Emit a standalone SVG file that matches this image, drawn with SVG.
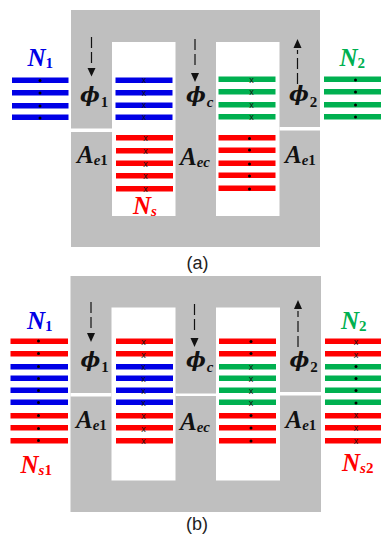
<svg xmlns="http://www.w3.org/2000/svg" width="381" height="537" viewBox="0 0 381 537">
<style>
.core{fill:#bfbfbf}
.win{fill:#fff}
.b{fill:#0000e6}.r{fill:#ff0000}.g{fill:#00b050}
.d{fill:#000}
.x{font:9px "Liberation Sans",Arial,sans-serif;fill:#111;text-anchor:middle}
.l{font-family:"Liberation Serif","Times New Roman",serif;font-weight:bold;font-style:italic;font-size:25px;fill:#111}
.p{font-family:"DejaVu Serif",serif;font-size:21px}
.s{font-family:"Liberation Serif","Times New Roman",serif;font-size:15px}
.n{font-style:normal}
.tb{fill:#0000e6}.tr{fill:#ff0000}.tg{fill:#00b050}
.cap{font:18px "Liberation Sans",Arial,sans-serif;fill:#222;text-anchor:middle}
.ar{stroke:#111;stroke-width:1.2;stroke-dasharray:11 4;fill:none}
.hd{fill:#111}
</style>
<g id="core-a">
<rect class="core" x="71" y="10" width="249" height="237"/>
<rect class="win" x="112" y="42" width="63.500" height="174"/>
<rect class="win" x="216" y="42" width="63.500" height="174"/>
<rect class="win" x="71" y="128.500" width="41" height="3.500"/>
<rect class="win" x="279.500" y="127" width="41" height="3.500"/>
</g>
<g id="winding-a-left">
<rect class="b" x="12" y="77.500" width="56.500" height="5.500"/><rect class="b" x="12" y="90" width="56.500" height="5.500"/><rect class="b" x="12" y="103" width="56.500" height="5.500"/><rect class="b" x="12" y="114.500" width="56.500" height="5.500"/>
<circle class="d" cx="40" cy="80.500" r="1.500"/><circle class="d" cx="40" cy="93" r="1.500"/><circle class="d" cx="40" cy="106" r="1.500"/><circle class="d" cx="40" cy="118" r="1.500"/>
<text class="l tb" x="27.500" y="66">N<tspan class="s n" dy="2">1</tspan></text>
</g>
<g id="winding-a-win1">
<rect class="b" x="115.500" y="77.500" width="57" height="5.500"/><rect class="b" x="115.500" y="90" width="57" height="5.500"/><rect class="b" x="115.500" y="102.500" width="57" height="5.500"/><rect class="b" x="115.500" y="114.500" width="57" height="5.500"/>
<text class="x" x="144" y="83">x</text><text class="x" x="144" y="95.500">x</text><text class="x" x="144" y="108">x</text><text class="x" x="144" y="120">x</text>
<rect class="r" x="116" y="135" width="57" height="5.500"/><rect class="r" x="116" y="148" width="57" height="5.500"/><rect class="r" x="116" y="160.500" width="57" height="5.500"/><rect class="r" x="116" y="173" width="57" height="5.500"/><rect class="r" x="116" y="186" width="57" height="5.500"/>
<text class="x" x="145.500" y="140.500">x</text><text class="x" x="145.500" y="153.500">x</text><text class="x" x="145.500" y="166.500">x</text><text class="x" x="145.500" y="178.500">x</text><text class="x" x="145.500" y="191.500">x</text>
<text class="l tr" x="133" y="214">N<tspan class="s" dy="2">s</tspan></text>
</g>
<g id="winding-a-win2">
<rect class="g" x="218.500" y="76.500" width="57" height="5.500"/><rect class="g" x="218.500" y="89" width="57" height="5.500"/><rect class="g" x="218.500" y="102" width="57" height="5.500"/><rect class="g" x="218.500" y="114" width="57" height="5.500"/>
<text class="x" x="251.500" y="82.500">x</text><text class="x" x="251.500" y="94.500">x</text><text class="x" x="251.500" y="107.500">x</text><text class="x" x="251.500" y="119.500">x</text>
<rect class="r" x="218.500" y="135" width="57" height="5.500"/><rect class="r" x="218.500" y="147.500" width="57" height="5.500"/><rect class="r" x="218.500" y="160.500" width="57" height="5.500"/><rect class="r" x="218.500" y="172.500" width="57" height="5.500"/><rect class="r" x="218.500" y="185.500" width="57" height="5.500"/>
<circle class="d" cx="249.500" cy="138.500" r="1.500"/><circle class="d" cx="249.500" cy="150" r="1.500"/><circle class="d" cx="249.500" cy="164" r="1.500"/><circle class="d" cx="249.500" cy="176" r="1.500"/><circle class="d" cx="249.500" cy="189" r="1.500"/>
</g>
<g id="winding-a-right">
<rect class="g" x="324" y="76.500" width="57" height="5.500"/><rect class="g" x="324" y="89" width="57" height="5.500"/><rect class="g" x="324" y="102" width="57" height="5.500"/><rect class="g" x="324" y="114" width="57" height="5.500"/>
<circle class="d" cx="355.500" cy="80" r="1.500"/><circle class="d" cx="355.500" cy="92" r="1.500"/><circle class="d" cx="355.500" cy="105" r="1.500"/><circle class="d" cx="355.500" cy="117" r="1.500"/>
<text class="l tg" x="339.500" y="65.500">N<tspan class="s n" dy="2">2</tspan></text>
</g>
<g id="labels-a">
<text class="l p" x="80" y="102">ϕ<tspan class="s n" dx="1" dy="5">1</tspan></text>
<text class="l p" x="186" y="102">ϕ<tspan class="s" dx="1" dy="5">c</tspan></text>
<text class="l p" x="289" y="101">ϕ<tspan class="s n" dx="1" dy="6">2</tspan></text>
<text class="l" x="77" y="163">A<tspan class="s" dy="2">e</tspan><tspan class="s n">1</tspan></text>
<text class="l" x="180" y="165">A<tspan class="s" dy="2">ec</tspan></text>
<text class="l" x="285" y="163">A<tspan class="s" dy="2">e</tspan><tspan class="s n">1</tspan></text>
<text class="cap" x="197.500" y="269">(a)</text>
</g>
<g id="core-b">
<rect class="core" x="70.500" y="276" width="250.500" height="236"/>
<rect class="win" x="111.500" y="307.500" width="64" height="173"/>
<rect class="win" x="216" y="307.500" width="64" height="173"/>
<rect class="win" x="70.500" y="393" width="41" height="3.500"/>
<rect class="win" x="175.500" y="393.500" width="40.500" height="2.500"/>
<rect class="win" x="280" y="392" width="41" height="3.500"/>
</g>
<g id="winding-b-left">
<rect class="r" x="10.500" y="338.500" width="57.500" height="5.500"/><rect class="r" x="10.500" y="351" width="57.500" height="5.500"/><rect class="b" x="10.500" y="364" width="57.500" height="5.500"/><rect class="b" x="10.500" y="375.500" width="57.500" height="5.500"/><rect class="b" x="10.500" y="387.500" width="57.500" height="5.500"/><rect class="b" x="10.500" y="399.500" width="57.500" height="5.500"/><rect class="r" x="10.500" y="413" width="57.500" height="5.500"/><rect class="r" x="10.500" y="425" width="57.500" height="5.500"/><rect class="r" x="10.500" y="438" width="57.500" height="5.500"/>
<circle class="d" cx="38.500" cy="341" r="1.500"/><circle class="d" cx="38.500" cy="353.500" r="1.500"/><circle class="d" cx="38.500" cy="366.500" r="1.500"/><circle class="d" cx="38.500" cy="378.500" r="1.500"/><circle class="d" cx="38.500" cy="390.500" r="1.500"/><circle class="d" cx="38.500" cy="402.500" r="1.500"/><circle class="d" cx="38.500" cy="415.500" r="1.500"/><circle class="d" cx="38.500" cy="428.500" r="1.500"/><circle class="d" cx="38.500" cy="440.500" r="1.500"/>
<text class="l tb" x="27" y="329">N<tspan class="s n" dy="2">1</tspan></text>
<text class="l tr" x="20.500" y="473">N<tspan class="s" dy="2">s</tspan><tspan class="s n">1</tspan></text>
</g>
<g id="winding-b-win1">
<rect class="r" x="116" y="338.500" width="57" height="5.500"/><rect class="r" x="116" y="351" width="57" height="5.500"/><rect class="b" x="116" y="364" width="57" height="5.500"/><rect class="b" x="116" y="375.500" width="57" height="5.500"/><rect class="b" x="116" y="387.500" width="57" height="5.500"/><rect class="b" x="116" y="399.500" width="57" height="5.500"/><rect class="r" x="116" y="413" width="57" height="5.500"/><rect class="r" x="116" y="425" width="57" height="5.500"/><rect class="r" x="116" y="438" width="57" height="5.500"/>
<text class="x" x="143.500" y="344.500">x</text><text class="x" x="143.500" y="357.500">x</text><text class="x" x="143.500" y="370">x</text><text class="x" x="143.500" y="381.500">x</text><text class="x" x="143.500" y="394">x</text><text class="x" x="143.500" y="406">x</text><text class="x" x="143.500" y="419">x</text><text class="x" x="143.500" y="432">x</text><text class="x" x="143.500" y="444">x</text>
</g>
<g id="winding-b-win2">
<rect class="r" x="219" y="338.500" width="57" height="5.500"/><rect class="r" x="219" y="351" width="57" height="5.500"/><rect class="g" x="219" y="364" width="57" height="5.500"/><rect class="g" x="219" y="375.500" width="57" height="5.500"/><rect class="g" x="219" y="387.500" width="57" height="5.500"/><rect class="g" x="219" y="399.500" width="57" height="5.500"/><rect class="r" x="219" y="413" width="57" height="5.500"/><rect class="r" x="219" y="425" width="57" height="5.500"/><rect class="r" x="219" y="438" width="57" height="5.500"/>
<circle class="d" cx="251" cy="341.500" r="1.500"/><circle class="d" cx="251" cy="353.500" r="1.500"/><text class="x" x="251" y="370">x</text><text class="x" x="251" y="381.500">x</text><text class="x" x="251" y="394">x</text><text class="x" x="251" y="406">x</text><circle class="d" cx="251" cy="415.500" r="1.500"/><circle class="d" cx="251" cy="428" r="1.500"/><circle class="d" cx="251" cy="441" r="1.500"/>
</g>
<g id="winding-b-right">
<rect class="r" x="325" y="338.500" width="56" height="5.500"/><rect class="r" x="325" y="351" width="56" height="5.500"/><rect class="g" x="325" y="364" width="56" height="5.500"/><rect class="g" x="325" y="375.500" width="56" height="5.500"/><rect class="g" x="325" y="387.500" width="56" height="5.500"/><rect class="g" x="325" y="399.500" width="56" height="5.500"/><rect class="r" x="325" y="413" width="56" height="5.500"/><rect class="r" x="325" y="425" width="56" height="5.500"/><rect class="r" x="325" y="438" width="56" height="5.500"/>
<text class="x" x="356" y="344.500">x</text><text class="x" x="356" y="357.500">x</text><circle class="d" cx="356" cy="366.500" r="1.500"/><circle class="d" cx="356" cy="378.500" r="1.500"/><circle class="d" cx="356" cy="390.500" r="1.500"/><circle class="d" cx="356" cy="403" r="1.500"/><text class="x" x="356" y="418">x</text><text class="x" x="356" y="430.500">x</text><text class="x" x="356" y="443.500">x</text>
<text class="l tg" x="341" y="329">N<tspan class="s n" dy="2">2</tspan></text>
<text class="l tr" x="342" y="471">N<tspan class="s" dy="2">s</tspan><tspan class="s n">2</tspan></text>
</g>
<g id="labels-b">
<text class="l p" x="80.500" y="367">ϕ<tspan class="s n" dx="1" dy="5">1</tspan></text>
<text class="l p" x="186" y="367">ϕ<tspan class="s" dx="1" dy="5">c</tspan></text>
<text class="l p" x="289.500" y="367">ϕ<tspan class="s n" dx="1" dy="5">2</tspan></text>
<text class="l" x="76" y="428">A<tspan class="s" dy="2">e</tspan><tspan class="s n">1</tspan></text>
<text class="l" x="180" y="430">A<tspan class="s" dy="2">ec</tspan></text>
<text class="l" x="285.500" y="428">A<tspan class="s" dy="2">e</tspan><tspan class="s n">1</tspan></text>
<text class="cap" x="197" y="530">(b)</text>
</g>
<g id="connectors">
<path class="ar" d="M91.500 37V63"/><path class="hd" d="M87.500 68h8l-4 8.500z"/>
<path class="ar" d="M195 39V68"/><path class="hd" d="M191 73h8l-4 9z"/>
<path class="ar" d="M297.500 84V50"/><path class="hd" d="M293.500 48h8l-4-9z"/>
<path class="ar" d="M91 302V328"/><path class="hd" d="M87 333h8l-4 9z"/>
<path class="ar" d="M194.500 304V334"/><path class="hd" d="M190.500 338h8l-4 9z"/>
<path class="ar" d="M298 347V311"/><path class="hd" d="M294 309h8l-4-9z"/>
</g>
</svg>
